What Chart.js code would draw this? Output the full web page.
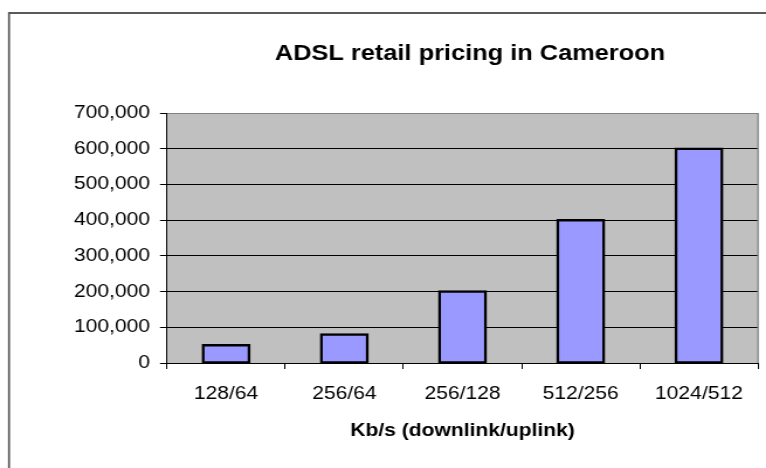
<!DOCTYPE html>
<html>
<head>
<meta charset="utf-8">
<script src="https://cdn.jsdelivr.net/npm/chart.js@4/dist/chart.umd.min.js"></script>
<style>
  html, body { margin: 0; padding: 0; background: #fff; overflow: hidden; }
  #wrap { width: 655px; height: 468px; transform: scaleX(1.1695); transform-origin: 0 0; }
</style>
</head>
<body>
<div id="wrap"><canvas id="c"></canvas></div>
<script>
const chartTitle = 'ADSL retail pricing in Cameroon';
const xAxisTitle = 'Kb/s (downlink/uplink)';
const categories = ['128/64', '256/64', '256/128', '512/256', '1024/512'];
const prices = [50000, 80000, 200000, 400000, 600000];
const yTickValues = [0, 100000, 200000, 300000, 400000, 500000, 600000, 700000];

const S = 766 / 655;
const FONT = "'Liberation Sans', Arial, Helvetica, sans-serif";

const decor = {
  id: 'decor',
  beforeDraw(chart) {
    const ctx = chart.ctx, a = chart.chartArea;
    ctx.save();
    ctx.fillStyle = '#ffffff';
    ctx.fillRect(0, 0, chart.width, chart.height);
    // outer frame (top and left)
    ctx.strokeStyle = '#5a5a5a';
    ctx.lineWidth = 2;
    ctx.beginPath();
    ctx.moveTo(7.7, 13); ctx.lineTo(chart.width, 13);
    ctx.stroke();
    ctx.lineWidth = 2 / S;
    ctx.beginPath();
    ctx.moveTo(7.7, 12); ctx.lineTo(7.7, chart.height);
    ctx.stroke();
    // plot area
    ctx.fillStyle = '#c0c0c0';
    ctx.fillRect(a.left, a.top, a.right - a.left, a.bottom - a.top);
    ctx.restore();
  },
  afterDatasetsDraw(chart) {
    const ctx = chart.ctx, a = chart.chartArea;
    ctx.save();
    ctx.strokeStyle = '#808080';
    ctx.lineWidth = 1.5 / S;
    ctx.beginPath();
    ctx.moveTo(a.right, a.top); ctx.lineTo(a.right, a.bottom);
    ctx.stroke();
    ctx.restore();
  },
  afterDraw(chart) {
    const ctx = chart.ctx;
    ctx.save();
    ctx.fillStyle = '#000';
    ctx.font = 'bold 21.7px ' + FONT;
    ctx.textAlign = 'center';
    ctx.textBaseline = 'middle';
    ctx.fillText(chartTitle, 470 / S, 54);
    ctx.restore();
  }
};

new Chart(document.getElementById('c'), {
  type: 'bar',
  data: {
    labels: categories,
    datasets: [{
      data: prices,
      backgroundColor: '#9999ff',
      borderColor: '#000000',
      borderWidth: 2.5,
      borderSkipped: false,
      inflateAmount: 1.25,
      barPercentage: 0.39,
      categoryPercentage: 1.0
    }]
  },
  options: {
    responsive: true,
    maintainAspectRatio: false,
    animation: false,
    layout: { padding: { top: 113, left: 0, right: 655 - 758 / S, bottom: 0 } },
    plugins: {
      legend: { display: false },
      tooltip: { enabled: false },
      title: { display: false }
    },
    scales: {
      x: {
        grid: { display: true, drawOnChartArea: false, drawTicks: true, tickLength: 6, color: '#000', offset: true },
        border: { display: true, color: '#000', width: 1 },
        ticks: { color: '#000', font: { family: FONT, size: 18 }, padding: 14, maxRotation: 0, autoSkip: false },
        title: { display: true, text: xAxisTitle, color: '#000', font: { family: FONT, size: 18, weight: 'bold' }, padding: { top: 0, bottom: 26 } },
        afterFit(scale) { scale.height = 105; }
      },
      y: {
        min: 0,
        max: 700000,
        afterBuildTicks(scale) { scale.ticks = yTickValues.map(v => ({ value: v })); },
        grid: {
          color: (c) => (c.tick && c.tick.value === 700000) ? '#808080' : '#000',
          tickColor: '#000',
          lineWidth: 1,
          drawTicks: true,
          tickLength: 6
        },
        border: { display: true, color: '#000', width: 1 },
        ticks: {
          color: '#000',
          font: { family: FONT, size: 18 },
          padding: 8.5,
          callback: (v) => Number(v).toLocaleString('en-US')
        },
        afterFit(scale) { scale.width = 167 / S; }
      }
    }
  },
  plugins: [decor]
});
</script>
</body>
</html>
